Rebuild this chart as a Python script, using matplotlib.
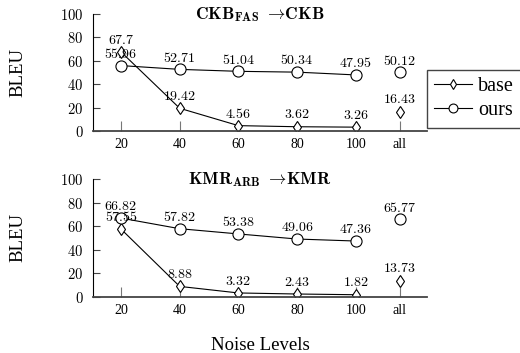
import matplotlib
matplotlib.use("Agg")
import matplotlib.pyplot as plt

plt.rcParams['mathtext.fontset'] = 'cm'
plt.rcParams['font.family'] = ['Liberation Serif', 'DejaVu Serif']

x_labels = ["20", "40", "60", "80", "100", "all"]
x_pos = [20, 40, 60, 80, 100, 115]

top_base = [67.7, 19.42, 4.56, 3.62, 3.26, 16.43]
top_ours = [55.96, 52.71, 51.04, 50.34, 47.95, 50.12]
bot_base = [57.55, 8.88, 3.32, 2.43, 1.82, 13.73]
bot_ours = [66.82, 57.82, 53.38, 49.06, 47.36, 65.77]

titles = [r"$\mathbf{CKB}_{\mathbf{FAS}}\ \rightarrow\!\mathbf{CKB}$",
          r"$\mathbf{KMR}_{\mathbf{ARB}}\ \rightarrow\!\mathbf{KMR}$"]

fig = plt.figure(figsize=(5.2, 3.53), dpi=100)
ax1 = fig.add_axes([0.179, 0.629, 0.642, 0.331])
ax2 = fig.add_axes([0.179, 0.159, 0.642, 0.334])

def draw(ax, base, ours, title, legend=False):
    lb, = ax.plot(x_pos[:5], base[:5], color='black', lw=0.8, marker='d',
                  ms=6, mfc='white', mec='black', mew=0.8, label='base')
    lo, = ax.plot(x_pos[:5], ours[:5], color='black', lw=0.8, marker='o',
                  ms=8, mfc='white', mec='black', mew=0.8, label='ours', zorder=3)
    ax.plot(x_pos[5:], base[5:], ls='none', marker='d', ms=6, mfc='white',
            mec='black', mew=0.8)
    ax.plot(x_pos[5:], ours[5:], ls='none', marker='o', ms=8, mfc='white',
            mec='black', mew=0.8)
    for ys in (base, ours):
        for xv, yv in zip(x_pos, ys):
            ax.annotate(r"$%s$" % str(yv), (xv, yv), xytext=(0, 8.5),
                        textcoords='offset points', ha='center', va='center',
                        fontsize=10)
    ax.set_xlim(10.5, 124.2)
    ax.set_ylim(0, 100)
    ax.set_yticks([0, 20, 40, 60, 80, 100])
    ax.set_yticklabels([r"$%d$" % v for v in [0, 20, 40, 60, 80, 100]], fontsize=10.5)
    ax.set_xticks(x_pos)
    ax.set_xticklabels(x_labels, fontsize=10)
    for s in ('top', 'right'):
        ax.spines[s].set_visible(False)
    ax.spines['left'].set_linewidth(0.8)
    ax.spines['bottom'].set_linewidth(1.3)
    ax.spines['bottom'].set_color('#444444')
    ax.tick_params(axis='x', direction='in', length=7, width=0.8, color='#777777', pad=5)
    ax.tick_params(axis='y', direction='in', length=5, width=0.8, color='#444444', pad=7)
    ax.set_ylabel("BLEU", fontsize=13.5, labelpad=24)
    ax.text(0.5, 0.995, title, transform=ax.transAxes, ha='center', va='center',
            fontsize=12.5)
    if legend:
        ax.legend(handles=[lb, lo], loc='upper left', bbox_to_anchor=(1.0, 0.52),
                  borderaxespad=0, fancybox=False, edgecolor='#444444',
                  fontsize=14.5, handlelength=1.9, handletextpad=0.3,
                  labelspacing=0.25, borderpad=0.35, markerscale=0.8,
                  framealpha=1)

draw(ax1, top_base, top_ours, titles[0], legend=True)
draw(ax2, bot_base, bot_ours, titles[1])
fig.text(0.5, 0.022, "Noise Levels", ha='center', va='center', fontsize=13.5)

fig.savefig("out.png", dpi=100)
